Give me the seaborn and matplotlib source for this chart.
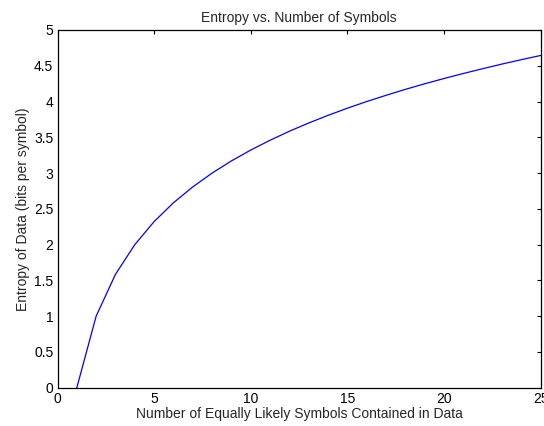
import matplotlib
matplotlib.use("Agg")
import matplotlib.pyplot as plt
import seaborn as sns
import pandas as pd

n_symbols = list(range(1, 26))
entropy_bits = [0.0, 1.0, 1.585, 2.0, 2.322, 2.585, 2.807, 3.0, 3.170, 3.322,
                3.459, 3.585, 3.700, 3.807, 3.907, 4.0, 4.087, 4.170, 4.248,
                4.322, 4.392, 4.459, 4.524, 4.585, 4.644]
x_ticks = [0, 5, 10, 15, 20, 25]
y_ticks = [0, 0.5, 1, 1.5, 2, 2.5, 3, 3.5, 4, 4.5, 5]

sns.set_style("white")
plt.rcParams['font.family'] = ['Liberation Sans', 'DejaVu Sans']

df = pd.DataFrame({"n": n_symbols, "H": entropy_bits})
fig = plt.figure(figsize=(5.44, 4.26), dpi=100)
ax = fig.add_axes([0.1057, 0.0899, 0.8882, 0.8397])
sns.lineplot(data=df, x="n", y="H", ax=ax, color="#0000ff", linewidth=0.9)
ax.set_xlim(0, 25)
ax.set_ylim(0, 5)
ax.set_xticks(x_ticks)
ax.set_yticks(y_ticks)
ax.set_yticklabels([f"{v:g}" for v in y_ticks])
ax.tick_params(direction="in", length=3, width=0.8, labelsize=10, top=True, right=True,
               colors="black", pad=3)
for s in ax.spines.values():
    s.set_color("black")
    s.set_linewidth(0.9)
ax.set_title("Entropy vs. Number of Symbols", fontsize=10, pad=6)
ax.set_xlabel("Number of Equally Likely Symbols Contained in Data", fontsize=10, labelpad=1)
ax.set_ylabel("Entropy of Data (bits per symbol)", fontsize=10, labelpad=3)
fig.savefig("out.png", dpi=100)
